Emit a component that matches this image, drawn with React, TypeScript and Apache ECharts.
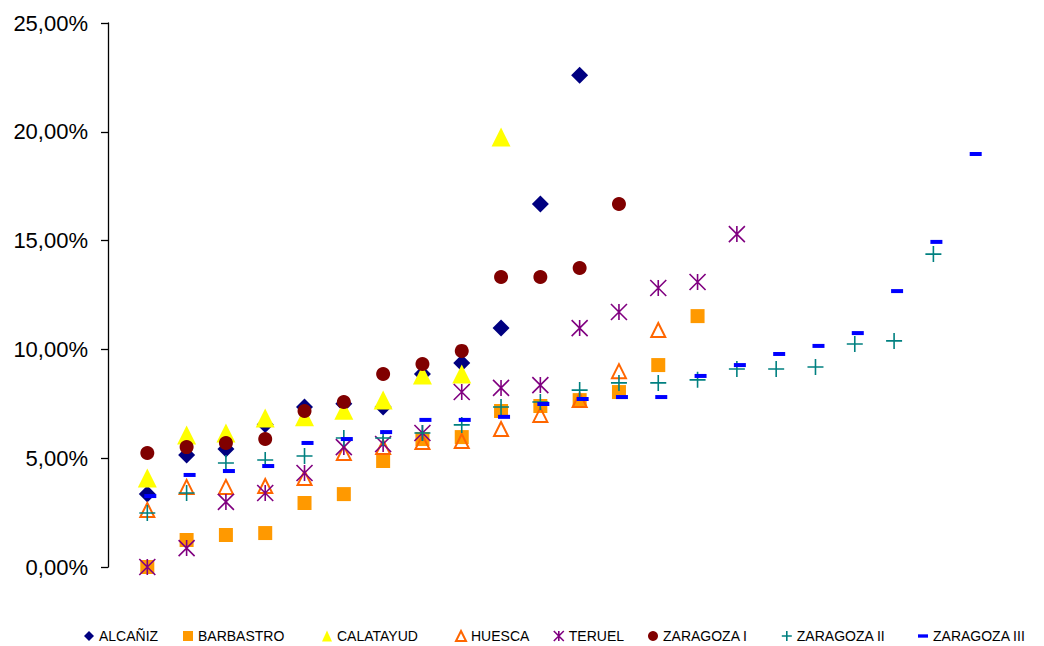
import React, { useEffect, useRef } from "react";
import * as echarts from "echarts";

const seriesNames = ["ALCAÑIZ", "BARBASTRO", "CALATAYUD", "HUESCA", "TERUEL", "ZARAGOZA I", "ZARAGOZA II", "ZARAGOZA III"];

const alcaniz = [3.35, 5.15, 5.42, 6.55, 7.35, 7.5, 7.35, 8.87, 9.38, 10.98, 16.68, 22.6];
const barbastro = [0, 1.24, 1.47, 1.56, 2.94, 3.35, 4.87, 5.88, 5.97, 7.17, 7.4, 7.67, 8.04, 9.28, 11.53];
const calatayud = [4.09, 6.07, 6.16, 6.85, 6.9, 7.2, 7.67, 8.82, 8.87, 19.76];
const huesca = [2.62, 3.68, 3.68, 3.72, 4.09, 5.24, 5.51, 5.74, 5.79, 6.34, 6.99, 7.67, 9.0, 10.89];
const teruel = [0, 0.87, 2.99, 3.4, 4.32, 5.51, 5.65, 6.16, 8.04, 8.23, 8.36, 10.98, 11.72, 12.82, 13.1, 15.3];
const zaragozaI = [5.24, 5.51, 5.7, 5.88, 7.17, 7.58, 8.87, 9.33, 9.93, 13.33, 13.33, 13.74, 16.68];
const zaragozaII = [2.48, 3.4, 4.78, 4.92, 5.1, 5.93, 5.93, 6.16, 6.53, 7.35, 7.58, 8.13, 8.46, 8.46, 8.6, 9.1, 9.1, 9.19, 10.25, 10.39, 14.38];
const zaragozaIII = [3.26, 4.23, 4.41, 4.64, 5.7, 5.88, 6.2, 6.76, 6.76, 6.9, 7.49, 7.72, 7.81, 7.81, 8.78, 9.28, 9.79, 10.16, 10.75, 12.68, 14.94, 18.98];

const yTicks = [0, 5, 10, 15, 20, 25];

const ASTERISK = "path://M0,0 L10,10 M10,0 L0,10 M5,0 L5,10";
const PLUS = "path://M5,0 L5,10 M0,5 L10,5";
const DASH = "path://M0,0 L12,0 L12,4 L0,4 Z";

const styles = [
  { symbol: "diamond", size: 17, itemStyle: { color: "#000080", opacity: 1 }, legendIcon: "diamond", legendX: 84 },
  { symbol: "rect", size: 14, itemStyle: { color: "#FF9900", opacity: 1 }, legendIcon: "rect", legendX: 183 },
  { symbol: "triangle", size: 19, itemStyle: { color: "#FFFF00", opacity: 1 }, legendIcon: "triangle", legendX: 322 },
  { symbol: "triangle", size: 14, itemStyle: { color: "rgba(0,0,0,0)", borderColor: "#FF6600", borderWidth: 2, opacity: 1 }, legendIcon: "triangle", legendX: 455 },
  { symbol: ASTERISK, size: 16, itemStyle: { color: "#800080", borderColor: "#800080", borderWidth: 1.6, opacity: 1 }, legendIcon: ASTERISK, legendX: 553 },
  { symbol: "circle", size: 14, itemStyle: { color: "#800000", opacity: 1 }, legendIcon: "circle", legendX: 648 },
  { symbol: PLUS, size: 16, itemStyle: { color: "#008080", borderColor: "#008080", borderWidth: 1.6, opacity: 1 }, legendIcon: PLUS, legendX: 781 },
  { symbol: DASH, size: [12, 4], itemStyle: { color: "#0000FF", opacity: 1 }, legendIcon: DASH, legendX: 918 },
];

const allData = [alcaniz, barbastro, calatayud, huesca, teruel, zaragozaI, zaragozaII, zaragozaIII];

export default function App() {
  const ref = useRef<HTMLDivElement>(null);
  useEffect(() => {
    if (!ref.current) return;
    const chart = echarts.init(ref.current, null, { renderer: "svg" });
    const series = allData.map((arr, si) => ({
      name: seriesNames[si],
      type: "scatter",
      symbol: styles[si].symbol,
      symbolSize: styles[si].size,
      symbolKeepAspect: false,
      symbolOffset: si === 7 ? [3, 0] : [0, 0],
      itemStyle: styles[si].itemStyle,
      data: arr.map((v, i) => [i + 1, v]),
      emphasis: { disabled: true },
    }));
    const legends = seriesNames.map((n, si) => ({
      data: [{ name: n, icon: styles[si].legendIcon, itemStyle: styles[si].itemStyle }],
      left: styles[si].legendX,
      top: 629,
      itemWidth: 10,
      itemHeight: si === 2 ? 11 : 10,
      itemGap: 0,
      padding: 0,
      selectedMode: false,
      textStyle: { fontSize: 14, fontFamily: "Arial, 'Liberation Sans', sans-serif", color: "#000" },
    }));
    chart.setOption({
      animation: false,
      backgroundColor: "#fff",
      legend: legends,
      grid: { left: 108, right: 32, top: 23, bottom: 79, containLabel: false },
      xAxis: { type: "value", min: 0, max: 23, show: false },
      yAxis: {
        type: "value",
        min: yTicks[0],
        max: yTicks[yTicks.length - 1],
        interval: 5,
        axisLine: { show: true, lineStyle: { color: "#000", width: 1.3 } },
        axisTick: { show: true, inside: false, length: 7, lineStyle: { color: "#000", width: 1.3 } },
        splitLine: { show: false },
        axisLabel: {
          margin: 20,
          fontSize: 22,
          fontFamily: "Arial, 'Liberation Sans', sans-serif",
          color: "#000",
          formatter: (v: number) => v.toFixed(2).replace(".", ",") + "%",
        },
      },
      series,
    });
    return () => chart.dispose();
  }, []);
  return <div ref={ref} style={{ position: "fixed", left: 0, top: 0, width: 1044, height: 646 }} />;
}
